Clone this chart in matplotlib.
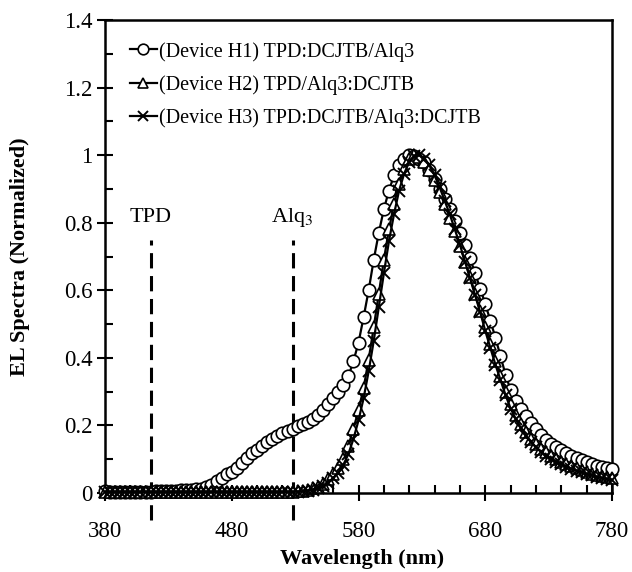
import numpy as np
import matplotlib
matplotlib.use('Agg')
import matplotlib.pyplot as plt
from matplotlib.ticker import MultipleLocator

plt.rcParams['font.family'] = ['Liberation Serif', 'DejaVu Serif']
plt.rcParams['mathtext.fontset'] = 'stix'

# wavelength grid (nm)
wl = np.arange(380, 781, 4)

# Device H1: TPD:DCJTB/Alq3 (circles)
h1 = [0.005, 0.004, 0.004, 0.004, 0.004, 0.004, 0.004, 0.004, 0.004, 0.004,
      0.005, 0.005, 0.006, 0.006, 0.007, 0.008, 0.009, 0.010, 0.011, 0.013,
      0.017, 0.024, 0.035, 0.045, 0.055, 0.062, 0.075, 0.090, 0.105, 0.117,
      0.128, 0.139, 0.150, 0.160, 0.169, 0.177, 0.184, 0.190, 0.197, 0.203,
      0.210, 0.220, 0.232, 0.246, 0.262, 0.280, 0.298, 0.320, 0.345, 0.390,
      0.445, 0.520, 0.600, 0.690, 0.770, 0.840, 0.895, 0.940, 0.972, 0.990,
      1.000, 0.998, 0.990, 0.980, 0.955, 0.930, 0.900, 0.870, 0.840, 0.805,
      0.770, 0.733, 0.695, 0.650, 0.605, 0.560, 0.510, 0.460, 0.405, 0.350,
      0.305, 0.272, 0.248, 0.228, 0.207, 0.188, 0.172, 0.158, 0.146, 0.135,
      0.126, 0.118, 0.111, 0.104, 0.097, 0.091, 0.086, 0.081, 0.077, 0.073,
      0.070]

# Device H2: TPD/Alq3:DCJTB (triangles)
h2 = [0.003] * 37 + [
      0.004, 0.005, 0.007, 0.010, 0.014, 0.019, 0.027, 0.040, 0.055, 0.075,
      0.100, 0.140, 0.190, 0.245, 0.310, 0.395, 0.490, 0.590, 0.690, 0.780,
      0.855, 0.915, 0.960, 0.988, 1.000, 0.995, 0.980, 0.955, 0.925, 0.890,
      0.855, 0.815, 0.775, 0.730, 0.685, 0.640, 0.590, 0.540, 0.490, 0.440,
      0.390, 0.345, 0.300, 0.262, 0.230, 0.203, 0.180, 0.160, 0.144, 0.131,
      0.120, 0.110, 0.101, 0.093, 0.086, 0.079, 0.073, 0.067, 0.062, 0.057,
      0.053, 0.049, 0.046, 0.043]

# Device H3: TPD:DCJTB/Alq3:DCJTB (crosses)
h3 = [0.003] * 38 + [
      0.004, 0.005, 0.007, 0.010, 0.014, 0.020, 0.030, 0.043, 0.060, 0.083,
      0.115, 0.160, 0.215, 0.280, 0.360, 0.450, 0.550, 0.650, 0.745, 0.825,
      0.895, 0.945, 0.980, 0.997, 1.000, 0.990, 0.970, 0.940, 0.905, 0.865,
      0.825, 0.780, 0.735, 0.685, 0.635, 0.585, 0.535, 0.480, 0.430, 0.380,
      0.335, 0.290, 0.250, 0.220, 0.193, 0.170, 0.151, 0.135, 0.122, 0.111,
      0.101, 0.093, 0.085, 0.078, 0.072, 0.066, 0.061, 0.056, 0.052, 0.048,
      0.044, 0.041, 0.038]

labels = ['(Device H1) TPD:DCJTB/Alq3',
          '(Device H2) TPD/Alq3:DCJTB',
          '(Device H3) TPD:DCJTB/Alq3:DCJTB']

# reference emission peaks marked by dashed lines
ref_names = ['TPD', r'Alq$_3$']
ref_wl = [416, 528]

fig = plt.figure(figsize=(6.32, 5.72), dpi=100)
ax = fig.add_axes([0.1661, 0.1381, 0.8023, 0.8269])

ax.plot(wl, h1, '-', color='black', lw=1.6, marker='o', ms=9, mfc='white',
        mec='black', mew=1.2, label=labels[0], clip_on=False, zorder=3)
ax.plot(wl, h2, '-', color='black', lw=1.6, marker='^', ms=8.5, mfc='white',
        mec='black', mew=1.2, label=labels[1], clip_on=False, zorder=4)
ax.plot(wl, h3, '-', color='black', lw=1.6, marker='x', ms=8.5,
        mec='black', mew=1.4, label=labels[2], clip_on=False, zorder=5)

for name, x in zip(ref_names, ref_wl):
    ax.plot([x, x], [-0.08, 0.75], color='black', lw=2.2, dashes=(5, 2.5),
            clip_on=False, zorder=2)
    ax.text(x, 0.814, name, ha='center', va='center', fontsize=16)

ax.set_xlim(380, 780)
ax.set_ylim(0, 1.4)
ax.xaxis.set_major_locator(MultipleLocator(100, offset=80))
ax.xaxis.set_minor_locator(MultipleLocator(20))
ax.yaxis.set_major_locator(MultipleLocator(0.2))
ax.yaxis.set_minor_locator(MultipleLocator(0.1))
ax.yaxis.set_major_formatter(plt.FuncFormatter(lambda v, p: '%g' % round(v, 1)))

ax.tick_params(which='major', direction='inout', length=12, width=1.5,
               labelsize=16.5, top=False, right=False)
ax.tick_params(which='minor', direction='in', length=6, width=1.5,
               top=False, right=False)
ax.tick_params(axis='y', which='major', pad=3)
ax.tick_params(axis='x', which='major', pad=14)

for s in ax.spines.values():
    s.set_linewidth(1.8)

ax.set_xlabel('Wavelength (nm)', fontsize=16, fontweight='bold')
ax.set_ylabel('EL Spectra (Normalized)', fontsize=16, fontweight='bold')
ax.xaxis.set_label_coords(0.507, -0.118)
ax.yaxis.set_label_coords(-0.148, 0.5)

ax.legend(loc='upper left', bbox_to_anchor=(0.05, 0.954), frameon=False,
          fontsize=14.5, handlelength=1.3, handletextpad=0.1,
          labelspacing=0.67, borderaxespad=0, borderpad=0, markerscale=0.85)

fig.savefig('out.png', dpi=100)
